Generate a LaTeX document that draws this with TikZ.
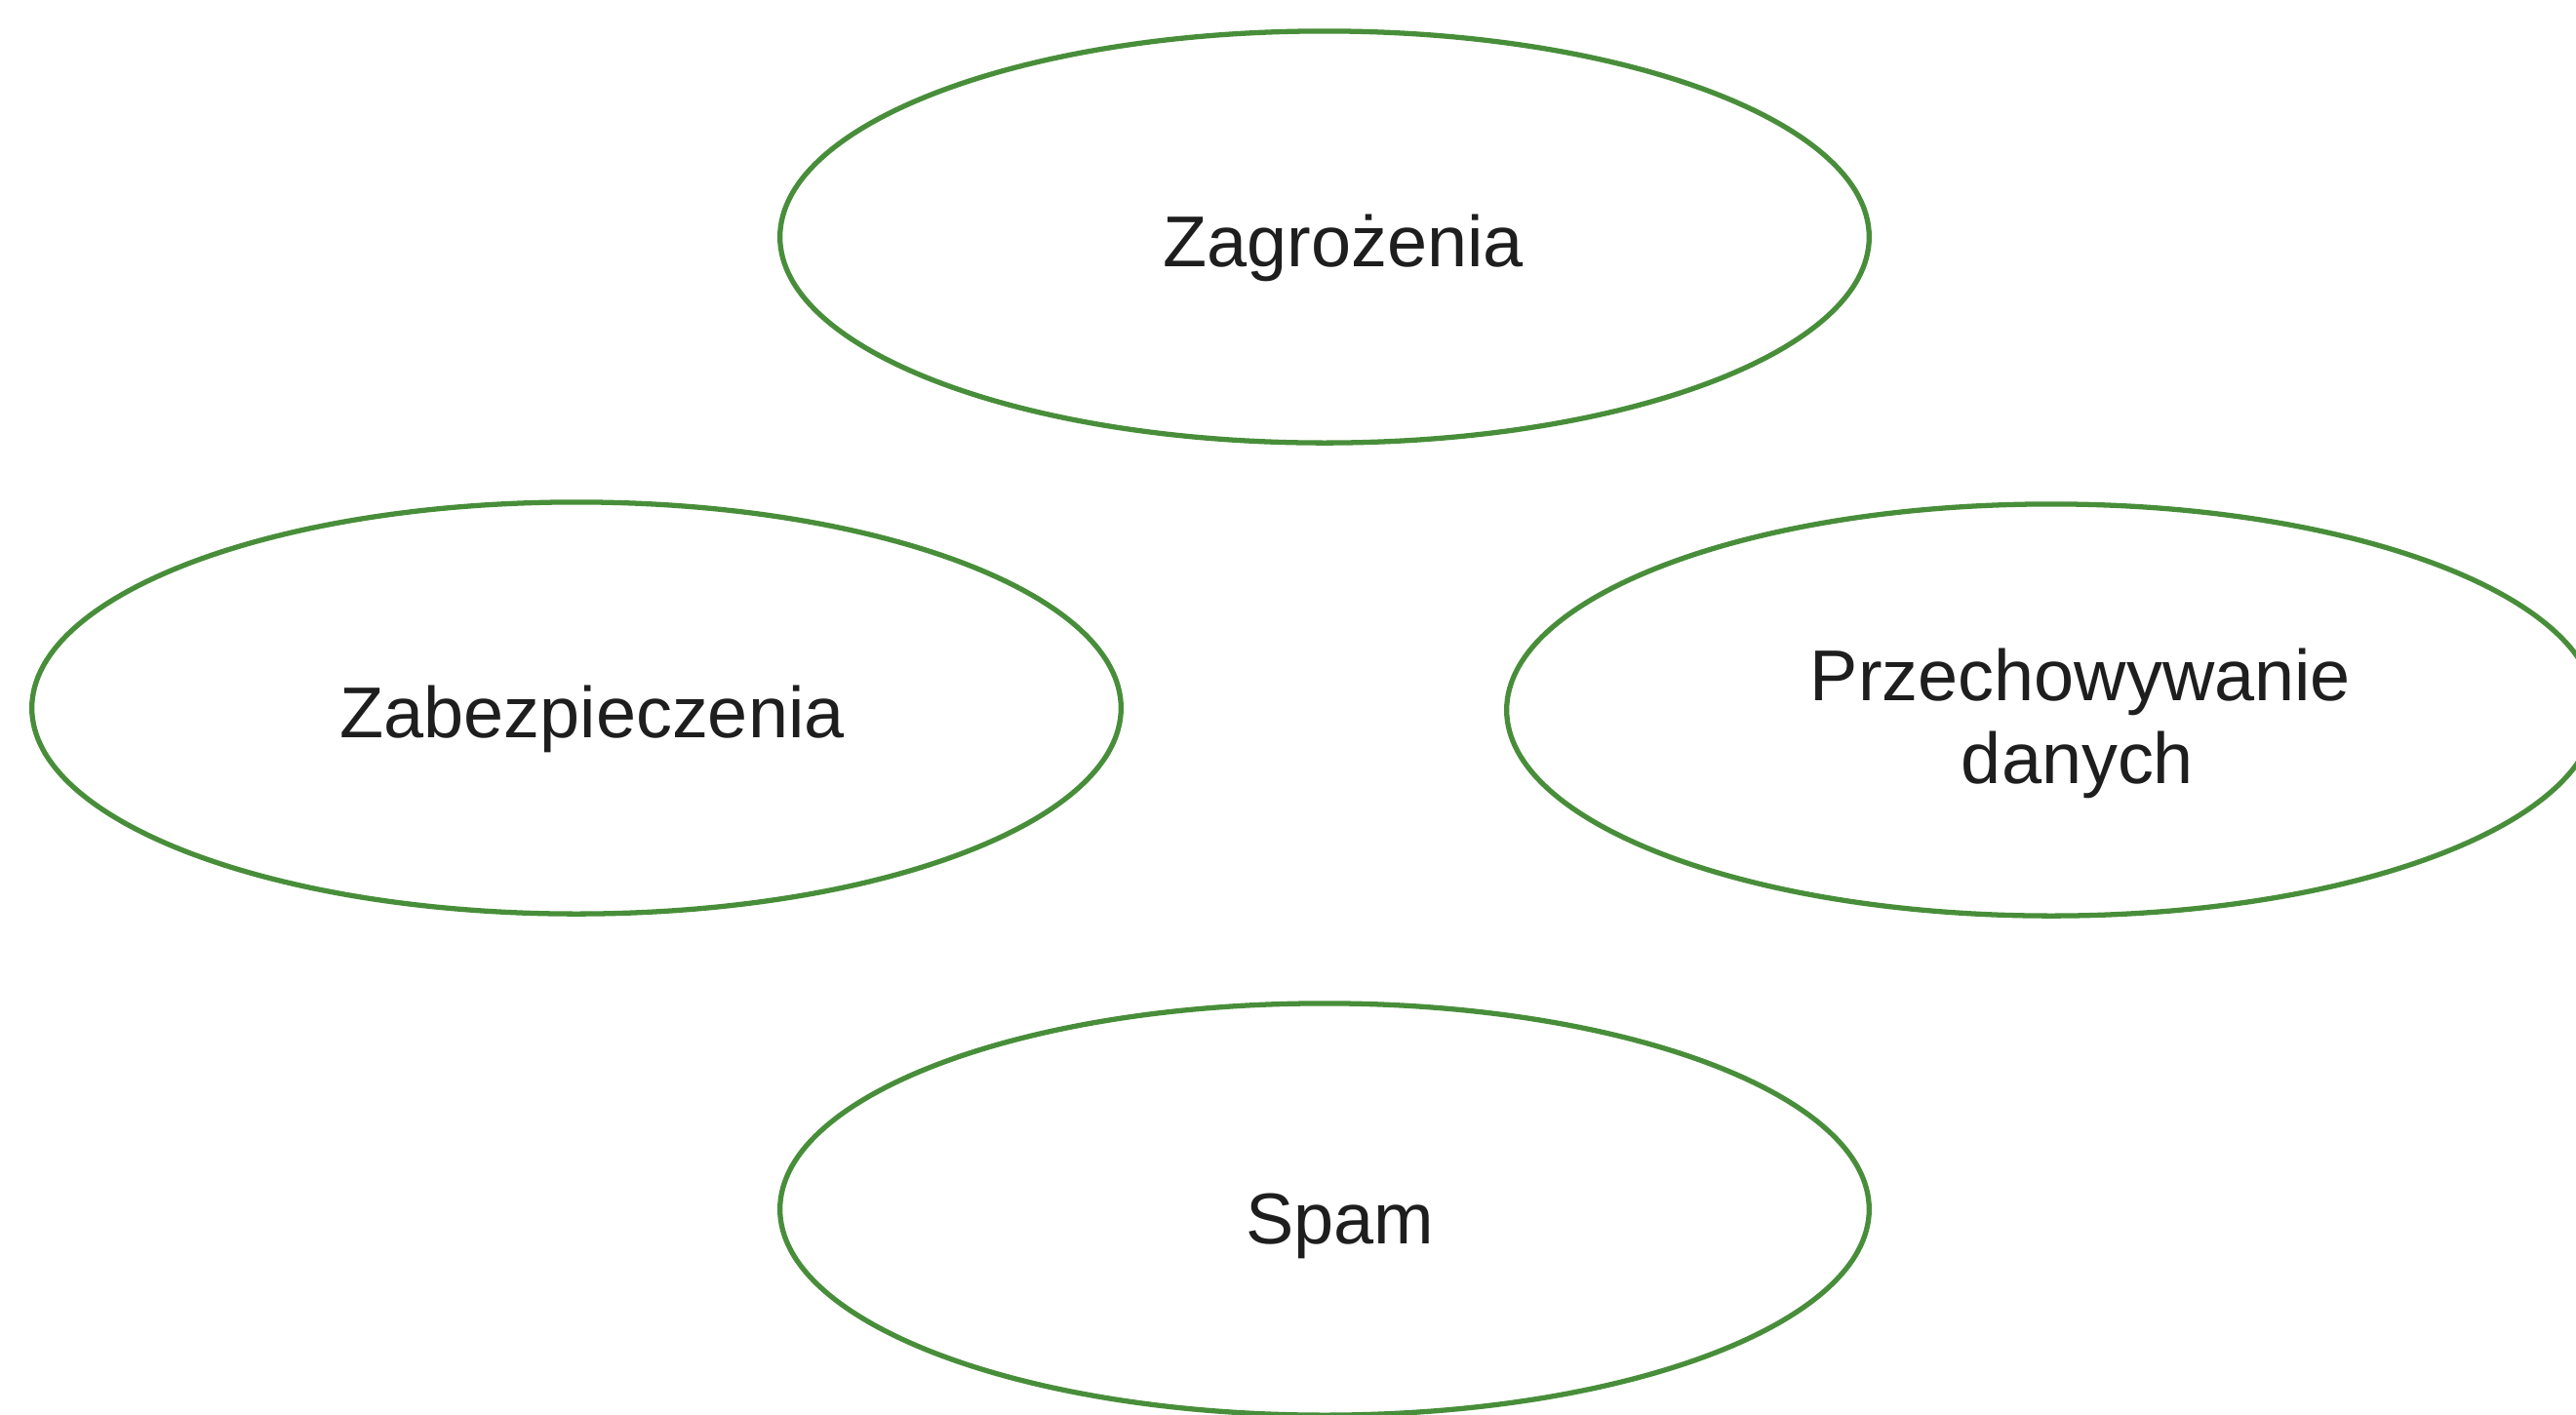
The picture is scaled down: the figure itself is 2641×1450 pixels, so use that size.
\documentclass[tikz,border=0pt]{standalone}
\usepackage{fontspec}
\setmainfont{Liberation Sans}
\usetikzlibrary{shapes.geometric}
\definecolor{ringgreen}{RGB}{72,142,58}
\definecolor{labeltext}{RGB}{30,30,30}
\tikzset{
  topic/.style={ellipse, draw=ringgreen, line width=1.5pt, fill=white,
    minimum width=11.16cm, minimum height=4.22cm, inner sep=0pt},
  topictext/.style={anchor=base, inner sep=0pt, text=labeltext,
    font=\fontsize{21}{24}\selectfont}
}
\begin{document}
\begin{tikzpicture}[x=0.01cm,y=-0.01cm]
\path[use as bounding box, clip] (0,0) rectangle (2641,1450);
\fill[white] (0,0) rectangle (2641,1450);
\node[topic] (threats) at (1358,243) {};
\node[topic] (security) at (591,726) {};
\node[topic] (storage) at (2103,728) {};
\node[topic] (spam) at (1358,1240) {};
\node[topictext] (threatsT) at (1377,273) {Zagrożenia};
\node[topictext] (securityT) at (607,756) {Zabezpieczenia};
\node[topictext] (storageT1) at (2133,718) {Przechowywanie};
\node[topictext] (storageT2) at (2130,803) {danych};
\node[topictext] (spamT) at (1374,1275) {Spam};
\end{tikzpicture}
\end{document}
